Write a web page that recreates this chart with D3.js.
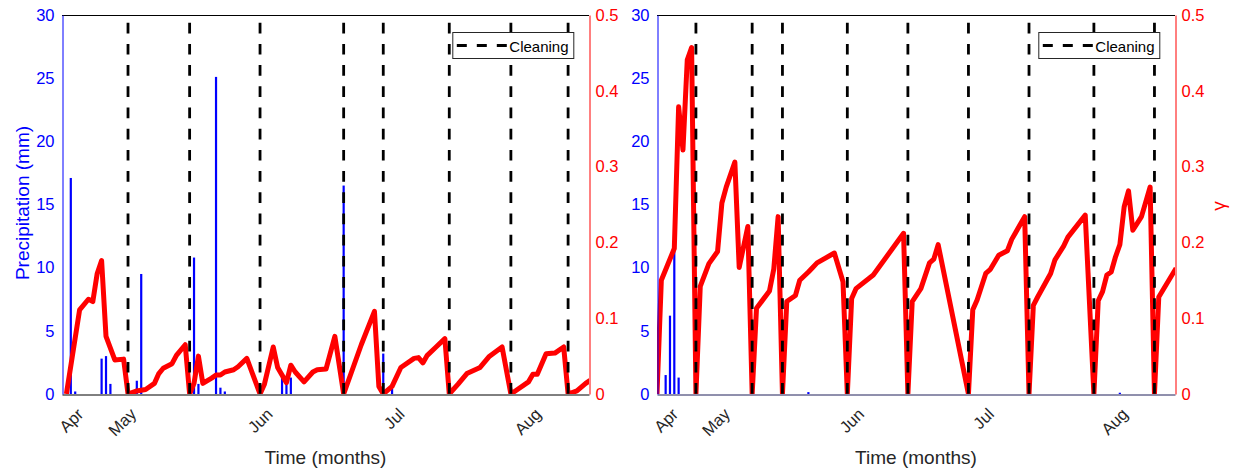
<!DOCTYPE html>
<html>
<head>
<meta charset="utf-8">
<script src="https://cdn.jsdelivr.net/npm/d3@7"></script>
<style>
  body { margin: 0; background: #fff; }
  svg { font-family: "Liberation Sans", Arial, sans-serif; }
</style>
</head>
<body>
<svg width="1233" height="471"></svg>
<script>
var year = 2019;

// x axis tick labels (first one sits at the first day of the record)
var monthTicks = ["04-19", "05-01", "06-01", "07-01", "08-01"];
var precipTicks = [0, 5, 10, 15, 20, 25, 30];
var gammaTicks = [0, 0.1, 0.2, 0.3, 0.4, 0.5];

// left panel
var leftRainDays = ["04-18", "04-19", "04-25", "04-26", "04-27", "05-03", "05-04", "05-16", "05-17",
    "05-21", "05-22", "05-23", "06-05", "06-06", "06-07", "06-19", "06-28", "06-30"];
var leftRainMm = [17.1, 0.2, 2.8, 3.0, 0.8, 1.05, 9.5, 10.8, 0.8,
    25.1, 0.5, 0.2, 1.3, 0.8, 1.3, 16.5, 3.2, 0.4];
var leftGammaDays = ["04-17", "04-20", "04-22", "04-23", "04-24", "04-25", "04-26", "04-28", "04-30",
    "05-01", "05-03", "05-05", "05-07", "05-08", "05-09", "05-11", "05-12", "05-14",
    "05-15", "05-16", "05-17", "05-18", "05-20", "05-21", "05-22", "05-23", "05-25", "05-26", "05-28",
    "05-31", "06-01", "06-03", "06-04", "06-06", "06-07", "06-08", "06-10", "06-12", "06-13", "06-15", "06-17",
    "06-19", "06-23", "06-26", "06-27", "06-28", "06-30", "07-02", "07-05", "07-06", "07-07", "07-08", "07-10", "07-12",
    "07-13", "07-15", "07-17", "07-20", "07-22", "07-25", "07-27", "07-28", "07-31", "08-01", "08-02", "08-04", "08-06", "08-08",
    "08-09", "08-11", "08-13", "08-14"];
var leftGamma = [0, 0.111, 0.125, 0.122, 0.159, 0.176, 0.076, 0.045, 0.046,
    0, 0.004, 0.006, 0.014, 0.027, 0.034, 0.040, 0.051, 0.065,
    0, 0.014, 0.050, 0.014, 0.021, 0.025, 0.025, 0.029, 0.032, 0.036, 0.047,
    0, 0.013, 0.062, 0.035, 0.015, 0.038, 0.029, 0.016, 0.029, 0.032, 0.033, 0.076,
    0, 0.065, 0.109, 0.010, 0, 0.010, 0.035, 0.047, 0.048, 0.041, 0.051, 0.062, 0.073,
    0, 0.013, 0.027, 0.035, 0.049, 0.062, 0, 0.004, 0.016, 0.026, 0.026, 0.053, 0.054, 0.062,
    0, 0.004, 0.014, 0.018];
var leftCleaning = ["05-01", "05-15", "05-31", "06-19", "06-28", "07-13", "07-27", "08-09"];

// right panel
var rightRainDays = ["04-18", "04-19", "04-20", "04-21", "05-21", "08-01"];
var rightRainMm = [1.5, 6.2, 11.5, 1.3, 0.15, 0.1];
var rightGammaDays = ["04-16", "04-17", "04-20", "04-21", "04-22", "04-23", "04-24",
    "04-25", "04-26", "04-28", "04-30", "05-01", "05-02", "05-04", "05-05", "05-07",
    "05-08", "05-09", "05-12", "05-13", "05-14",
    "05-15", "05-16", "05-18", "05-19", "05-21", "05-22", "05-23", "05-27", "05-29",
    "05-30", "05-31", "06-01", "06-05", "06-12",
    "06-13", "06-14", "06-16", "06-18", "06-19", "06-20",
    "06-27", "06-28", "06-29", "07-01", "07-02", "07-04", "07-06", "07-07", "07-10",
    "07-11", "07-12", "07-13", "07-16", "07-17", "07-19", "07-20", "07-24",
    "07-26", "07-27", "07-28", "07-29", "07-30", "07-31", "08-01", "08-02", "08-03", "08-04", "08-06", "08-08",
    "08-09", "08-10", "08-14"];
var rightGamma = [0, 0.150, 0.192, 0.379, 0.322, 0.441, 0.457,
    0, 0.142, 0.172, 0.188, 0.252, 0.273, 0.306, 0.167, 0.221,
    0, 0.113, 0.136, 0.165, 0.234,
    0, 0.122, 0.130, 0.150, 0.161, 0.167, 0.173, 0.186, 0.148,
    0, 0.126, 0.139, 0.157, 0.212,
    0, 0.122, 0.139, 0.173, 0.178, 0.197,
    0, 0.111, 0.124, 0.159, 0.164, 0.183, 0.189, 0.204, 0.234,
    0, 0.117, 0.128, 0.159, 0.177, 0.195, 0.207, 0.236,
    0, 0.123, 0.135, 0.157, 0.161, 0.181, 0.197, 0.247, 0.268, 0.216, 0.234, 0.273,
    0, 0.128, 0.166];
var rightCleaning = ["04-25", "05-08", "05-15", "05-30", "06-13", "06-27", "07-11", "07-26", "08-09"];

var svg = d3.select("svg"),
    yTop = 15,
    yBottom = 394,
    font = "Liberation Sans, Arial, sans-serif",
    parseDay = d3.timeParse("%Y-%m-%d");

function day(s) { return parseDay(year + "-" + s); }

var xDomain = [day("04-16"), new Date(year, 7, 13, 18)];

function drawPanel(id, x0, x1, rainDays, rainMm, gammaDays, gamma, cleaning, opts) {
    var x = d3.scaleTime().domain(xDomain).range([x0, x1]),
        yP = d3.scaleLinear().domain([0, 30]).range([yBottom, yTop]),
        yG = d3.scaleLinear().domain([0, 0.5]).range([yBottom, yTop]);

    svg.append("clipPath").attr("id", id)
        .append("rect")
        .attr("x", x0).attr("y", yTop)
        .attr("width", x1 - x0).attr("height", yBottom - yTop);

    var g = svg.append("g");
    var plot = g.append("g").attr("clip-path", "url(#" + id + ")");

    // precipitation bars
    plot.selectAll(".bar")
        .data(rainDays.map(function(d, i) { return { t: day(d), v: rainMm[i] }; }))
        .enter().append("rect")
        .attr("class", "bar")
        .attr("x", function(d) { return x(d.t) - 1.1; })
        .attr("width", 2.2)
        .attr("y", function(d) { return yP(d.v); })
        .attr("height", function(d) { return yP(0) - yP(d.v); })
        .style("fill", "#0000ff");

    // gamma line
    var line = d3.line()
        .x(function(d) { return x(d.t); })
        .y(function(d) { return yG(d.v); });
    plot.append("path")
        .datum(gammaDays.map(function(d, i) { return { t: day(d), v: gamma[i] }; }))
        .attr("d", line)
        .style("fill", "none")
        .style("stroke", "#ff0000")
        .style("stroke-width", 5)
        .style("stroke-linejoin", "round");

    // cleaning events
    plot.selectAll(".clean")
        .data(cleaning.map(day))
        .enter().append("line")
        .attr("class", "clean")
        .attr("x1", x).attr("x2", x)
        .attr("y1", yTop).attr("y2", yBottom)
        .style("stroke", "#000")
        .style("stroke-width", 2.8)
        .style("stroke-dasharray", "10.7,10.5")
        .style("stroke-dashoffset", 13.5);

    // top border
    g.append("line")
        .attr("x1", x0).attr("x2", x1)
        .attr("y1", yTop + 0.5).attr("y2", yTop + 0.5)
        .style("stroke", "#000");

    // x axis
    var xAxis = g.append("g")
        .attr("transform", "translate(0," + (yBottom + 0.5) + ")")
        .call(d3.axisBottom(x)
            .tickValues(monthTicks.map(day))
            .tickFormat(d3.timeFormat("%b"))
            .tickSize(0));
    xAxis.select(".domain").style("stroke", opts.bottomColor);
    xAxis.selectAll("text")
        .attr("y", 0)
        .attr("dy", "0.75em")
        .attr("transform", "translate(0,12) rotate(-45)")
        .style("text-anchor", "end")
        .style("font-size", "16.5px")
        .style("font-family", font)
        .style("fill", "#262626");

    // left axis: precipitation
    var yl = g.append("g")
        .attr("transform", "translate(" + (x0 + 0.5) + ",0)")
        .attr("color", "#0000ff")
        .call(d3.axisLeft(yP).tickValues(precipTicks).tickSize(0).tickPadding(8));
    yl.selectAll("text")
        .style("font-size", "16.5px")
        .style("font-family", font);

    // right axis: gamma
    var yr = g.append("g")
        .attr("transform", "translate(" + (x1 + 0.5) + ",0)")
        .attr("color", "#ff0000")
        .call(d3.axisRight(yG).tickValues(gammaTicks).tickSize(0).tickPadding(6)
            .tickFormat(function(d) { return d === 0 ? "0" : d3.format(".1f")(d); }));
    yr.selectAll("text")
        .style("font-size", "16.5px")
        .style("font-family", font);

    g.append("text")
        .attr("x", (x0 + x1) / 2)
        .attr("y", 464)
        .style("text-anchor", "middle")
        .style("font-size", "19px")
        .style("fill", "#262626")
        .text("Time (months)");

    if (opts.leftLabel) {
        g.append("text")
            .attr("transform", "translate(22.5,203) rotate(-90)")
            .attr("dy", "0.35em")
            .style("text-anchor", "middle")
            .style("font-size", "19px")
            .style("fill", "#0000ff")
            .text("Precipitation (mm)");
    }
    if (opts.rightLabel) {
        g.append("text")
            .attr("transform", "translate(1225,206) rotate(-90)")
            .style("text-anchor", "middle")
            .style("font-size", "19px")
            .style("fill", "#ff0000")
            .text("γ");
    }

    // legend
    var lx = x1 - 15.7 - 121, ly = 32;
    var legend = g.append("g").attr("transform", "translate(" + lx + "," + ly + ")");
    legend.append("rect")
        .attr("x", 0.5).attr("y", 0.5)
        .attr("width", 121).attr("height", 26)
        .style("fill", "#fff")
        .style("stroke", "#262626");
    legend.append("line")
        .attr("x1", 4.5).attr("x2", 54.5)
        .attr("y1", 13.5).attr("y2", 13.5)
        .style("stroke", "#000")
        .style("stroke-width", 2.8)
        .style("stroke-dasharray", "10,10");
    legend.append("text")
        .attr("x", 57)
        .attr("y", 19.5)
        .style("font-size", "15px")
        .style("fill", "#000")
        .text("Cleaning");
}

drawPanel("clipL", 62, 589, leftRainDays, leftRainMm, leftGammaDays, leftGamma, leftCleaning,
    { leftLabel: true, rightLabel: false, bottomColor: "#000" });
drawPanel("clipR", 657, 1175, rightRainDays, rightRainMm, rightGammaDays, rightGamma, rightCleaning,
    { leftLabel: false, rightLabel: true, bottomColor: "#20205a" });
</script>
</body>
</html>
